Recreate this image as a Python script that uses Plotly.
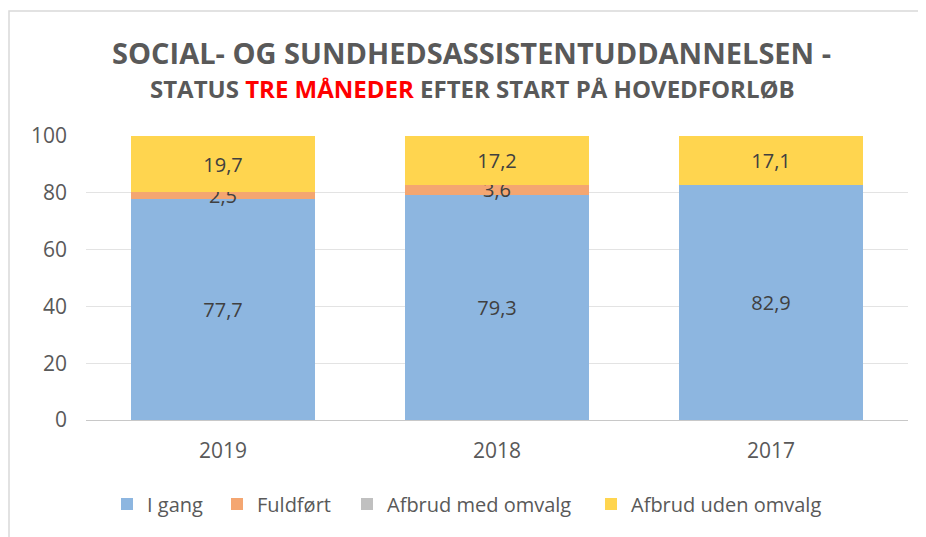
import plotly.graph_objects as go

years = ["2019", "2018", "2017"]
i_gang = [77.7, 79.3, 82.9]
fuldfoert = [2.5, 3.6, None]
afbrud_med = [0, 0, 0]
afbrud_uden = [19.7, 17.2, 17.1]

series = [
    ("I gang", i_gang, "#8db6e0"),
    ("Fuldført", fuldfoert, "#f4a671"),
    ("Afbrud med omvalg", afbrud_med, "#c0c0c0"),
    ("Afbrud uden omvalg", afbrud_uden, "#ffd54f"),
]
legend_ids = ["legend", "legend2", "legend3", "legend4"]
# left edge of each legend square in the reference (page px)
legend_square_x = [127, 237, 367, 611]

def fmt(v):
    if v is None or v == 0:
        return ""
    return f"{v:.1f}".replace(".", ",")

FONT = "Open Sans"
W, H = 918, 529
L, R, T, B = 78, 18, 128, 117
PW = W - L - R
PH = H - T - B

fig = go.Figure()
for (name, vals, col), lg in zip(series, legend_ids):
    fig.add_trace(go.Bar(
        x=years, y=[v if v is not None else 0 for v in vals], name=name,
        legend=lg,
        marker=dict(color=col, line=dict(width=0)),
        text=[fmt(v) for v in vals],
        textposition="inside", insidetextanchor="middle",
        textfont=dict(family=FONT, size=20, color="#404040"),
        hoverinfo="skip",
    ))

layout_legends = {}
for lg, sx in zip(legend_ids, legend_square_x):
    layout_legends[lg] = dict(
        orientation="h", x=(sx - 8 + 5 - 25 - L) / PW, xanchor="left",
        y=-(496 - T - PH) / PH, yanchor="middle",
        font=dict(size=20, color="#595959", family=FONT),
        bgcolor="rgba(0,0,0,0)",
    )

fig.update_layout(
    barmode="stack", bargap=0.33,
    width=W, height=H,
    margin=dict(l=L, r=R, t=T, b=B),
    paper_bgcolor="white", plot_bgcolor="white",
    font=dict(family=FONT, color="#595959", size=20),
    uniformtext=dict(minsize=20, mode="show"),
    showlegend=True,
    xaxis=dict(showgrid=False, showline=False, ticks="", tickfont=dict(size=21),
               ticklabelstandoff=16),
    yaxis=dict(range=[0, 100], dtick=20, showgrid=True, gridcolor="#e3e3e3", gridwidth=1,
               zeroline=True, zerolinecolor="#c8c8c8", zerolinewidth=1,
               tickfont=dict(size=21), ticks="", showline=False, ticklabelstandoff=18),
    annotations=[
        dict(text="<b>SOCIAL- OG SUNDHEDSASSISTENTUDDANNELSEN -</b>", xref="paper", yref="paper",
             x=(463 - L) / PW, y=1.0, yshift=84, showarrow=False, xanchor="center", yanchor="middle",
             font=dict(size=29, color="#595959", family=FONT)),
        dict(text="<b>STATUS <span style='color:#ff0000'>TRE MÅNEDER</span> EFTER START PÅ HOVEDFORLØB</b>",
             xref="paper", yref="paper",
             x=(464 - L) / PW, y=1.0, yshift=48, showarrow=False, xanchor="center", yanchor="middle",
             font=dict(size=24, color="#595959", family=FONT)),
    ],
    shapes=[dict(type="rect", xref="paper", yref="paper",
                 x0=(1 - L) / PW, x1=(W + 20 - L) / PW, y0=-(B + 20) / PH, y1=(T - 3) / PH + 1,
                 line=dict(color="#d9d9d9", width=1.5), fillcolor="rgba(0,0,0,0)", layer="below")],
    **layout_legends,
)

fig.write_html("out.html")
